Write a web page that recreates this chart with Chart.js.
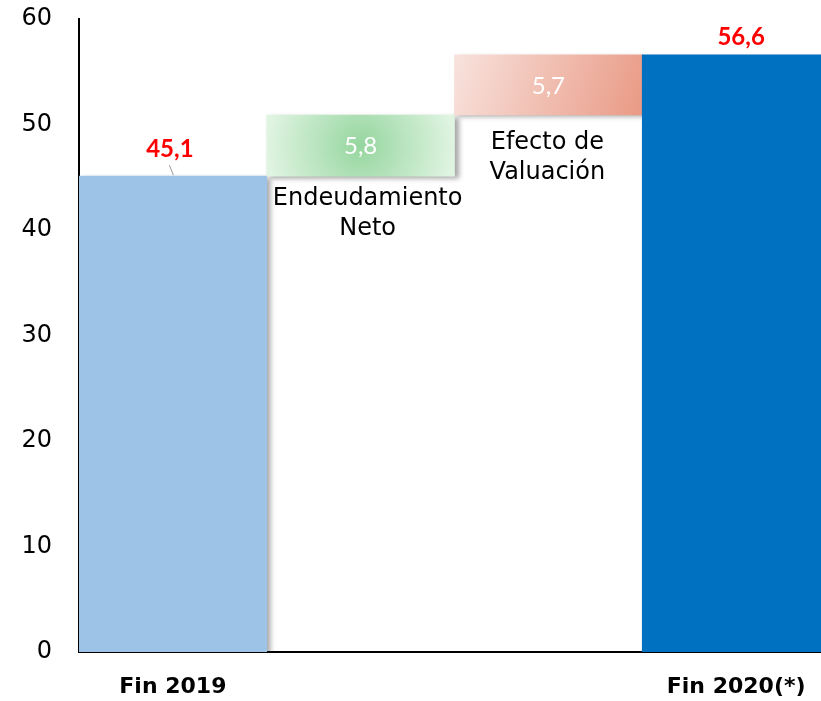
<!DOCTYPE html>
<html><head><meta charset="utf-8">
<script src="https://cdn.jsdelivr.net/npm/chart.js@4"></script>
<style>html,body{margin:0;padding:0;overflow:hidden;background:#fff}#wrap{position:absolute;left:0;top:0;width:830px;height:701px}</style>
</head><body><div id="wrap"><canvas id="c" width="830" height="701"></canvas></div>
<script>
const categories = ['Fin 2019', ['Endeudamiento','Neto'], ['Efecto de','Valuación'], 'Fin 2020(*)'];
const values = [45.1, 5.8, 5.7, 56.6];
const barKinds = ['total', 'delta', 'delta', 'total'];
const yTicks = [0, 10, 20, 30, 40, 50, 60];

const FONT = '"DejaVu Sans", sans-serif';
const NUMFONT = 'Lato, "DejaVu Sans", sans-serif';
let run = 0;
const ranges = values.map((v, i) => {
  if (barKinds[i] === 'total') { run = v; return [0, v]; }
  const r = [run, +(run + v).toFixed(1)]; run = r[1]; return r;
});
const fmt = v => v.toFixed(1).replace('.', ',');

function barRect(ch, i) {
  const x = ch.scales.x, y = ch.scales.y;
  const w = x.width / categories.length;
  const cx = x.getPixelForValue(i);
  return { l: cx - w / 2, r: cx + w / 2, t: y.getPixelForValue(ranges[i][1]), b: y.getPixelForValue(ranges[i][0]), cx };
}

function bg(ctx) {
  const i = ctx.dataIndex, ch = ctx.chart;
  if (i === 0) return '#9DC3E6';
  if (i === 3) return '#0070C0';
  if (!ch.scales || !ch.scales.x || !ch.chartArea) return '#ccc';
  const r = barRect(ch, i);
  const c = ch.ctx;
  if (i === 1) {
    const g = c.createRadialGradient(r.cx, (r.t + r.b) / 2, 0, r.cx, (r.t + r.b) / 2, (r.r - r.l) / 2);
    g.addColorStop(0, '#96d69f');
    g.addColorStop(1, '#e0f4e2');
    return g;
  }
  const g = c.createLinearGradient(r.l, r.t, r.r, r.b);
  g.addColorStop(0, '#f8e2dd');
  g.addColorStop(1, '#e99a85');
  return g;
}

const shadowPlugin = {
  id: 'shadow',
  beforeDatasetsDraw(ch) {
    const c = ch.ctx; c.save();
    c.shadowColor = 'rgba(0,0,0,0.35)'; c.shadowOffsetX = 4; c.shadowOffsetY = 2; c.shadowBlur = 5;
  },
  afterDatasetsDraw(ch) { ch.ctx.restore(); }
};

const labelOffsets = [0, 23, 28, 0];
const labelShiftX = [0, 7, -1, 0];

const labelPlugin = {
  id: 'labels',
  afterDraw(ch) {
    const c = ch.ctx; c.save();
    c.textAlign = 'center'; c.textBaseline = 'middle';
    values.forEach((v, i) => {
      const r = barRect(ch, i);
      if (barKinds[i] === 'total') {
        c.fillStyle = '#FF0000';
        c.font = 'bold 24px ' + NUMFONT;
        c.fillText(fmt(v), r.cx + (i === 0 ? -3 : 5), r.t - (i === 0 ? 27 : 18));
        if (i === 0) {
          c.strokeStyle = '#999'; c.lineWidth = 1;
          c.beginPath(); c.moveTo(r.cx - 3.5, r.t - 11); c.lineTo(r.cx + 0.5, r.t - 1); c.stroke();
        }
      } else {
        c.fillStyle = '#FFFFFF';
        c.font = '24px ' + NUMFONT;
        c.fillText(fmt(v), r.cx, (r.t + r.b) / 2 + 1);
        c.fillStyle = '#000';
        c.font = '24px ' + FONT;
        categories[i].forEach((ln, k) => c.fillText(ln, r.cx + labelShiftX[i], r.b + labelOffsets[i] + k * 30));
      }
    });
    c.restore();
  }
};

new Chart(document.getElementById('c'), {
  type: 'bar',
  data: {
    labels: categories,
    datasets: [{ data: ranges, backgroundColor: bg, borderWidth: 0, barPercentage: 1, categoryPercentage: 1 }]
  },
  options: {
    responsive: false, animation: false,
    layout: { padding: 0 },
    plugins: { legend: { display: false }, tooltip: { enabled: false } },
    scales: {
      x: {
        z: 1,
        grid: { display: false, drawTicks: false },
        border: { display: true, color: '#000', width: 2 },
        ticks: {
          color: '#000', font: { family: FONT, size: 22, weight: 'bold' }, padding: 22, maxRotation: 0,
          callback: (v, i) => Array.isArray(categories[i]) ? '' : categories[i]
        },
        afterFit: s => { s.height = 49; s.paddingLeft = 0; s.paddingRight = 0; }
      },
      y: {
        z: 1, min: yTicks[0], max: yTicks[yTicks.length - 1],
        grid: { display: false, drawTicks: false },
        border: { display: true, color: '#000', width: 2 },
        afterBuildTicks: s => { s.ticks = yTicks.map(v => ({ value: v })); },
        ticks: { color: '#000', font: { family: FONT, size: 24 }, padding: 27 },
        afterFit: s => { s.width = 79; s.paddingTop = 19; s.paddingBottom = 0; }
      }
    }
  },
  plugins: [shadowPlugin, labelPlugin]
});
</script></body></html>
